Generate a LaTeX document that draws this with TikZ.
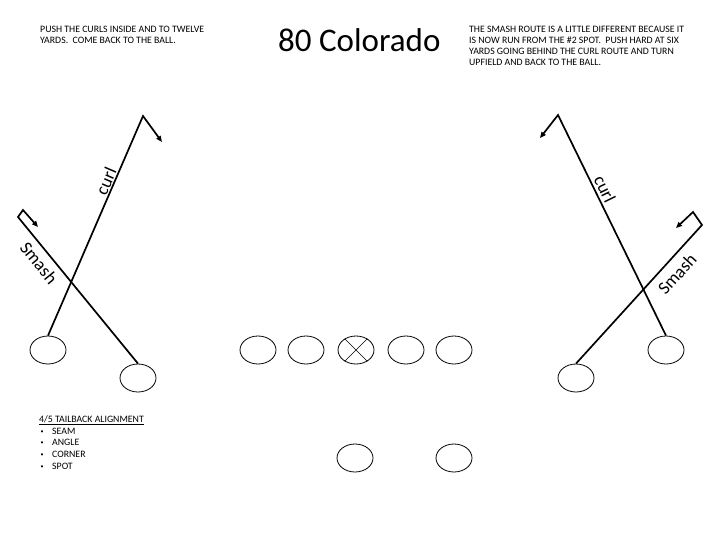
\documentclass[tikz,border=0pt]{standalone}
\usepackage{fontspec}
\setmainfont{Carlito}
\usetikzlibrary{shapes.geometric,arrows.meta}
\begin{document}
\begin{tikzpicture}[x=1pt,y=-1pt,
  player/.style={draw, ellipse, minimum width=36pt, minimum height=28pt, inner sep=0pt, line width=0.8pt},
  route/.style={line width=1.7pt},
  routearrow/.style={route, -{Triangle[length=6pt,width=5pt]}},
  lbl/.style={font=\fontsize{18}{20}\selectfont, inner sep=0pt},
  note/.style={font=\fontsize{9.8}{10.7}\selectfont, inner sep=0pt, anchor=base west},
  bul/.style={font=\fontsize{6}{6}\selectfont, inner sep=0pt, anchor=base west},
]
\fill[white] (0,0) rectangle (720,540);
\useasboundingbox (0,0) rectangle (720,540);

% players
\node[player] (wrL) at (48,350) {};
\node[player] (slotL) at (138,378) {};
\node[player] (lt) at (258,350) {};
\node[player] (lg) at (306,350) {};
\node[player] (ctr) at (356,350) {};
\node[player] (rg) at (406,350) {};
\node[player] (rt) at (454,350) {};
\node[player] (qb) at (355,458) {};
\node[player] (tb) at (454,458) {};
\node[player] (slotR) at (576,378) {};
\node[player] (wrR) at (666,350) {};
\draw[line width=0.6pt] (ctr.45) -- (ctr.225) (ctr.135) -- (ctr.315);

% route points
\coordinate (cLtop) at (143,116);
\coordinate (cLend) at (162,142);
\coordinate (cRtop) at (558,115);
\coordinate (cRend) at (540,138);
\coordinate (sL1) at (18,217);
\coordinate (sL2) at (23,210);
\coordinate (sL3) at (38,227);
\coordinate (sR1) at (702,225);
\coordinate (sR2) at (693,212);
\coordinate (sR3) at (676,228);

% routes
\draw[routearrow] (wrL.north) -- (cLtop) -- (cLend);
\draw[routearrow] (slotL.north) -- (sL1) -- (sL2) -- (sL3);
\draw[routearrow] (wrR.north) -- (cRtop) -- (cRend);
\draw[routearrow] (slotR.north) -- (sR1) -- (sR2) -- (sR3);

% route labels
\node[lbl, rotate=66.7] (curlL) at (106,181) {curl};
\node[lbl, rotate=-63.9] (curlR) at (605,189) {curl};
\node[lbl, rotate=-50.8] (smashL) at (39,263) {Smash};
\node[lbl, rotate=47.8] (smashR) at (677,274) {Smash};

% texts
\node[note] (noteL1) at (40,33) {PUSH THE CURLS INSIDE AND TO TWELVE};
\node[note] (noteL2) at (40,43.7) {YARDS.\ \ COME BACK TO THE BALL.};
\node[anchor=base west, inner sep=0pt, font=\fontsize{33}{36}\selectfont] (title) at (278,52) {80 Colorado};
\node[note] (noteR1) at (469,33) {THE SMASH ROUTE IS A LITTLE DIFFERENT BECAUSE IT};
\node[note] (noteR2) at (469,43.7) {IS NOW RUN FROM THE \#2 SPOT.\ \ PUSH HARD AT SIX};
\node[note] (noteR3) at (469,54.4) {YARDS GOING BEHIND THE CURL ROUTE AND TURN};
\node[note] (noteR4) at (469,65.1) {UPFIELD AND BACK TO THE BALL.};

\node[note] (tbhead) at (39,422) {\underline{4/5 TAILBACK ALIGNMENT}};
\node[bul] (b1) at (40.5,433) {\textbullet};
\node[note] (i1) at (52,434) {SEAM};
\node[bul] (b2) at (40.5,444.5) {\textbullet};
\node[note] (i2) at (52,445.5) {ANGLE};
\node[bul] (b3) at (40.5,456) {\textbullet};
\node[note] (i3) at (52,457) {CORNER};
\node[bul] (b4) at (40.5,468) {\textbullet};
\node[note] (i4) at (52,469) {SPOT};
\end{tikzpicture}
\end{document}
